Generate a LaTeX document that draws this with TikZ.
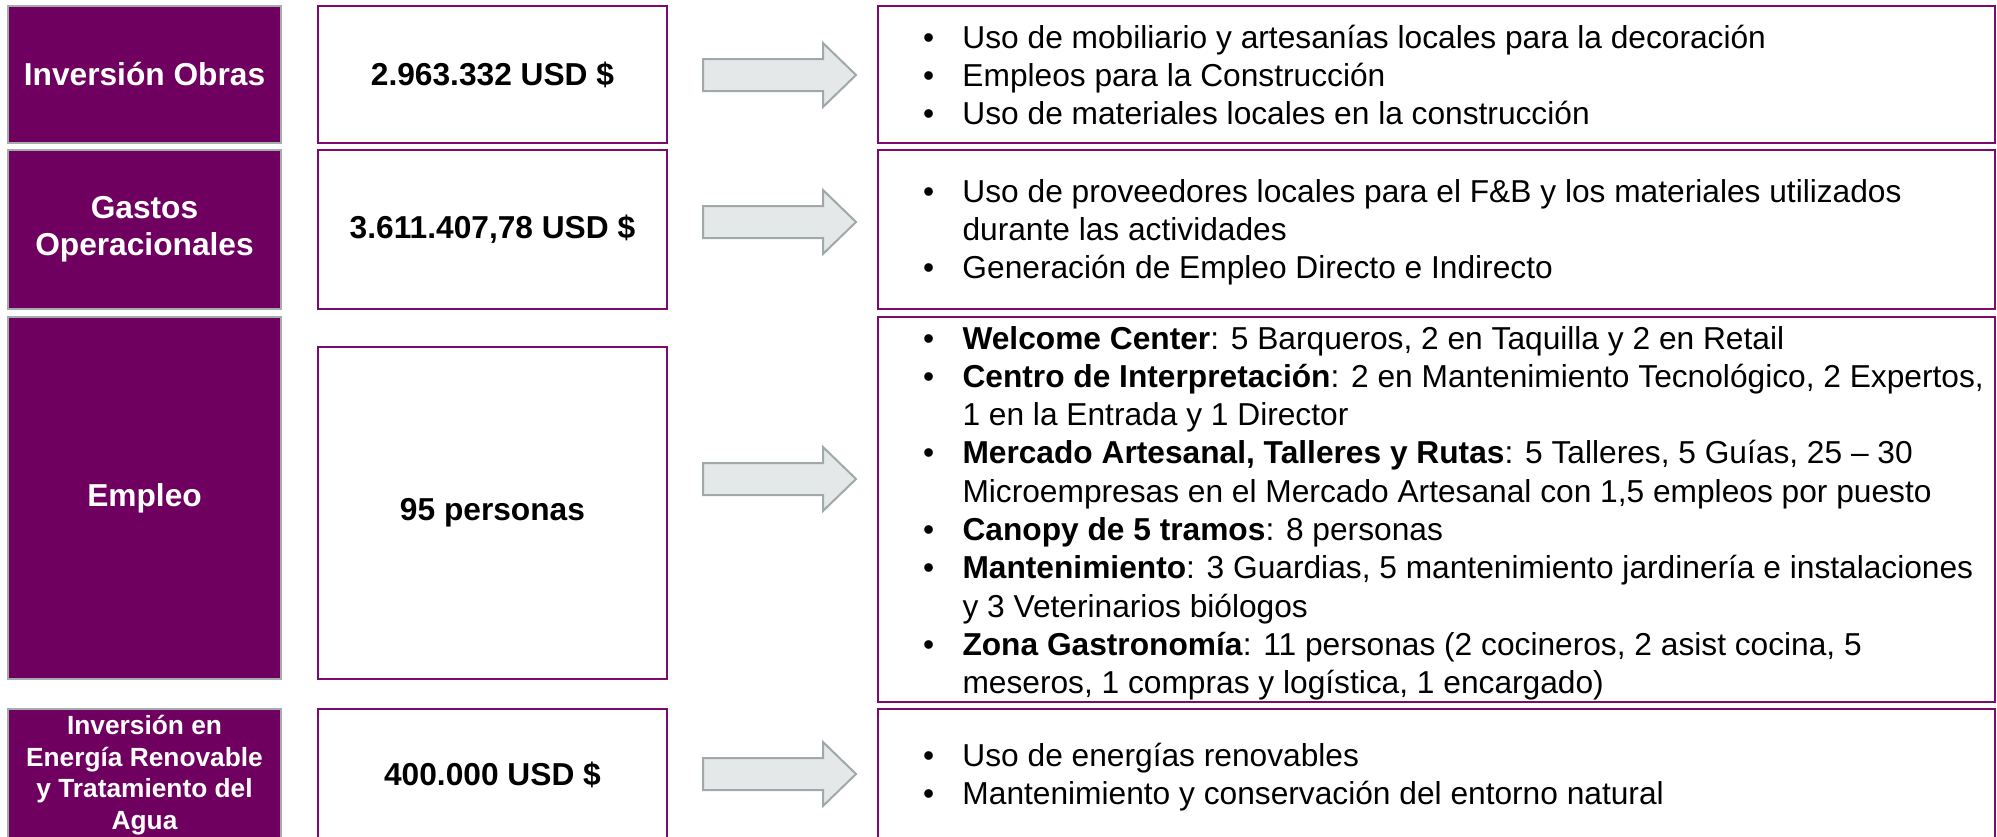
\documentclass[tikz,border=0pt]{standalone}
\usepackage{fontspec}
\setmainfont{Liberation Sans}
\definecolor{catpurple}{RGB}{112,0,96}
\definecolor{catgray}{RGB}{165,172,172}
\definecolor{boxpurple}{RGB}{125,10,110}
\definecolor{arrowfill}{RGB}{228,232,232}
\definecolor{arrowgray}{RGB}{160,168,170}
\newcommand{\bul}{\makebox[39.5pt][l]{•}}
\newcommand{\ind}{\hspace*{39.5pt}}
\newcommand{\blockarr}[1]{\draw[blockarrow] (703,#1-16) -- (823,#1-16) -- (823,#1-32) -- (856,#1) -- (823,#1+32) -- (823,#1+16) -- (703,#1+16) -- cycle;}
\tikzset{
  catbox/.style={draw=catgray, line width=2pt, fill=catpurple, text=white,
    font=\bfseries\fontsize{31.7}{37}\selectfont, align=center, inner sep=0pt,
    outer sep=0pt, anchor=north west, minimum width=273pt},
  valbox/.style={draw=boxpurple, line width=2pt, fill=white,
    font=\bfseries\fontsize{31.7}{37}\selectfont, align=center, inner sep=0pt,
    outer sep=0pt, anchor=north west, minimum width=349pt},
  listbox/.style={draw=boxpurple, line width=2pt, fill=white, inner sep=0pt,
    outer sep=0pt, anchor=north west, minimum width=1117pt},
  listtext/.style={anchor=base west, inner sep=0pt, outer sep=0pt},
  blockarrow/.style={draw=arrowgray, fill=arrowfill, line width=2pt}
}
\begin{document}
\begin{tikzpicture}[x=1pt,y=-1pt]
\useasboundingbox (0,0) rectangle (1997,836);
\clip (0,0) rectangle (1997,836);
\fill[white] (0,0) rectangle (1997,836);

% row 1
\node[catbox, minimum height=137pt] (c1) at (8,6) {Inversión Obras};
\node[valbox, minimum height=137pt] (v1) at (318,6) {2.963.332 USD \$};
\node[listbox, minimum height=137pt] (r1) at (878,6) {};
% row 2
\node[catbox, minimum height=159pt] (c2) at (8,150) {Gastos\\Operacionales};
\node[valbox, minimum height=159pt] (v2) at (318,150) {3.611.407,78 USD \$};
\node[listbox, minimum height=159pt] (r2) at (878,150) {};
% row 3
\node[catbox, minimum height=362pt] (c3) at (8,317) {Empleo};
\node[valbox, minimum height=332pt] (v3) at (318,347) {95 personas};
\node[listbox, minimum height=385pt] (r3) at (878,317) {};
% row 4
\node[catbox, minimum height=132pt, font=\bfseries\fontsize{26.3}{31.7}\selectfont] (c4) at (8,709) {Inversión en\\Energía Renovable\\y Tratamiento del\\Agua};
\node[valbox, minimum height=132pt] (v4) at (318,709) {400.000 USD \$};
\node[listbox, minimum height=132pt] (r4) at (878,709) {};

% arrows
\blockarr{75}
\blockarr{222}
\blockarr{479}
\blockarr{774}

% list texts
\node[listtext] (t1) at (923,48) {\parbox[t]{1072pt}{\fontsize{31.7}{38.4}\selectfont
\bul Uso de mobiliario y artesanías locales para la decoración\\
\bul Empleos para la Construcción\\
\bul Uso de materiales locales en la construcción}};

\node[listtext] (t2) at (923,202) {\parbox[t]{1072pt}{\fontsize{31.7}{38.2}\selectfont
\bul Uso de proveedores locales para el F\&B y los materiales utilizados\\
\ind durante las actividades\\
\bul Generación de Empleo Directo e Indirecto}};

\node[listtext] (t3) at (923,349) {\parbox[t]{1072pt}{\fontsize{31.7}{38.3}\selectfont
\bul \textbf{Welcome Center}: 5 Barqueros, 2 en Taquilla y 2 en Retail\\
\bul \textbf{Centro de Interpretación}: 2 en Mantenimiento Tecnológico, 2 Expertos,\\
\ind 1 en la Entrada y 1 Director\\
\bul \textbf{Mercado Artesanal, Talleres y Rutas}: 5 Talleres, 5 Guías, 25 – 30\\
\ind Microempresas en el Mercado Artesanal con 1,5 empleos por puesto\\
\bul \textbf{Canopy de 5 tramos}: 8 personas\\
\bul \textbf{Mantenimiento}: 3 Guardias, 5 mantenimiento jardinería e instalaciones\\
\ind y 3 Veterinarios biólogos\\
\bul \textbf{Zona Gastronomía}: 11 personas (2 cocineros, 2 asist cocina, 5\\
\ind meseros, 1 compras y logística, 1 encargado)}};

\node[listtext] (t4) at (923,766) {\parbox[t]{1072pt}{\fontsize{31.7}{38.2}\selectfont
\bul Uso de energías renovables\\
\bul Mantenimiento y conservación del entorno natural}};
\end{tikzpicture}
\end{document}
